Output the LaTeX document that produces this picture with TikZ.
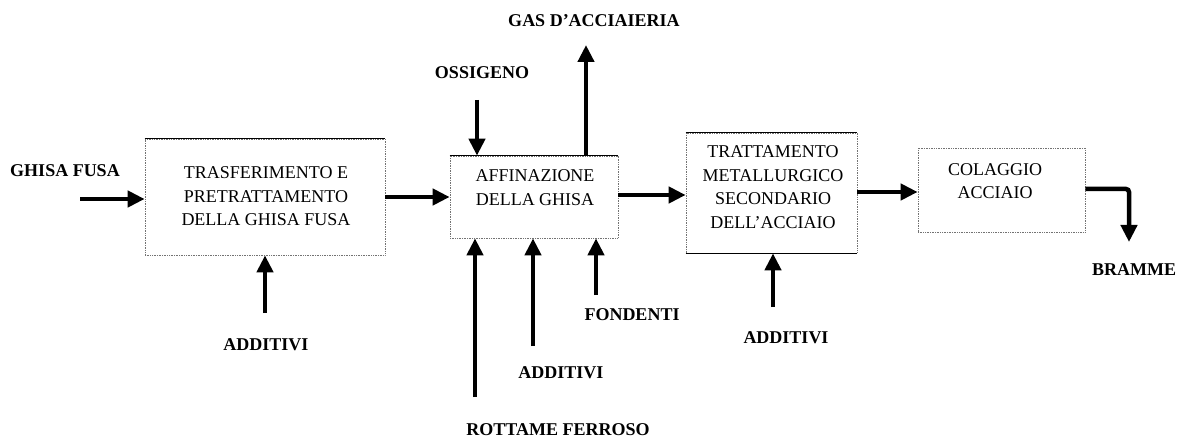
\documentclass[tikz,border=0pt]{standalone}
\usepackage{fontspec}
\setmainfont{Liberation Serif}
\usetikzlibrary{arrows.meta,positioning}
\tikzstyle{proc} = [draw=black!55,densely dotted,line width=0.7pt,rectangle,inner sep=0]
\tikzstyle{proctxt} = [align=center,font=\fontsize{18}{23.5}\selectfont,inner sep=0]
\tikzstyle{lbl} = [font=\fontsize{18}{20}\selectfont\bfseries,inner sep=0]
\tikzstyle{flow} = [line width=4.5pt,-{Triangle[length=17pt,width=16pt]}]
\tikzstyle{rim} = [line width=0.8pt]

\begin{document}
\begin{tikzpicture}[x=1pt,y=-1pt]
      \useasboundingbox (0,0) rectangle (1177,438);
      % process blocks
      \node[proc,minimum width=240pt,minimum height=116pt] (tras) at (265,197) {};
      \node[proc,minimum width=168pt,minimum height=82pt] (aff) at (534,197) {};
      \node[proc,minimum width=171pt,minimum height=120pt] (tratt) at (771.5,193) {};
      \node[proc,minimum width=167pt,minimum height=84pt] (cola) at (1001.5,190) {};
      \draw[rim] (tras.north west) -- (tras.north east);
      \draw[rim] (aff.north west) -- (aff.north east);
      \draw[rim] (tratt.north west) -- (tratt.north east);
      \draw[rim] (tratt.south west) -- (tratt.south east);
      \node[proctxt] (tras-t) at (266,196.5) {TRASFERIMENTO E\\PRETRATTAMENTO\\DELLA GHISA FUSA};
      \node[proctxt] (aff-t) at (535,187.5) {AFFINAZIONE\\DELLA GHISA};
      \node[proctxt] (tratt-t) at (773,187) {TRATTAMENTO\\METALLURGICO\\SECONDARIO\\DELL'ACCIAIO};
      \node[proctxt] (cola-t) at (995,181) {COLAGGIO\\ACCIAIO};
      % streams
      \node[lbl] (ghisa) at (65,171) {GHISA FUSA};
      \node[lbl] (add1) at (266,345) {ADDITIVI};
      \node[lbl] (oss) at (482,73) {OSSIGENO};
      \node[lbl] (gas) at (594,21) {GAS D'ACCIAIERIA};
      \node[lbl] (rott) at (558,430) {ROTTAME FERROSO};
      \node[lbl] (add2) at (561,373) {ADDITIVI};
      \node[lbl] (fond) at (632,315) {FONDENTI};
      \node[lbl] (add3) at (786,338) {ADDITIVI};
      \node[lbl] (bramme) at (1134,270) {BRAMME};
      \coordinate (ghisa-in) at (80,199);
      \coordinate (add1-in) at (265,313);
      \coordinate (oss-in) at (477,100);
      \coordinate (gas-out) at (586,45);
      \coordinate (rott-in) at (475,397);
      \coordinate (add2-in) at (533,346);
      \coordinate (fond-in) at (596,295);
      \coordinate (add3-in) at (773,307);
      \coordinate (bramme-out) at (1129,242);
      \draw[flow] (ghisa-in) -- (ghisa-in -| tras.west);
      \draw[flow] (tras.east) -- (aff.west);
      \draw[flow] (aff.east |- 0,195) -- (tratt.west |- 0,195);
      \draw[flow] (tratt.east |- 0,192) -- (cola.west |- 0,192);
      \draw[flow,rounded corners=3pt] (cola.east |- 0,189) -| (bramme-out);
      \draw[flow] (add1-in) -- (add1-in |- tras.south);
      \draw[flow] (oss-in) -- (oss-in |- aff.north);
      \draw[flow] (aff.north -| gas-out) -- (gas-out);
      \draw[flow] (rott-in) -- (rott-in |- aff.south);
      \draw[flow] (add2-in) -- (add2-in |- aff.south);
      \draw[flow] (fond-in) -- (fond-in |- aff.south);
      \draw[flow] (add3-in) -- (add3-in |- tratt.south);
    \end{tikzpicture}
\end{document}
